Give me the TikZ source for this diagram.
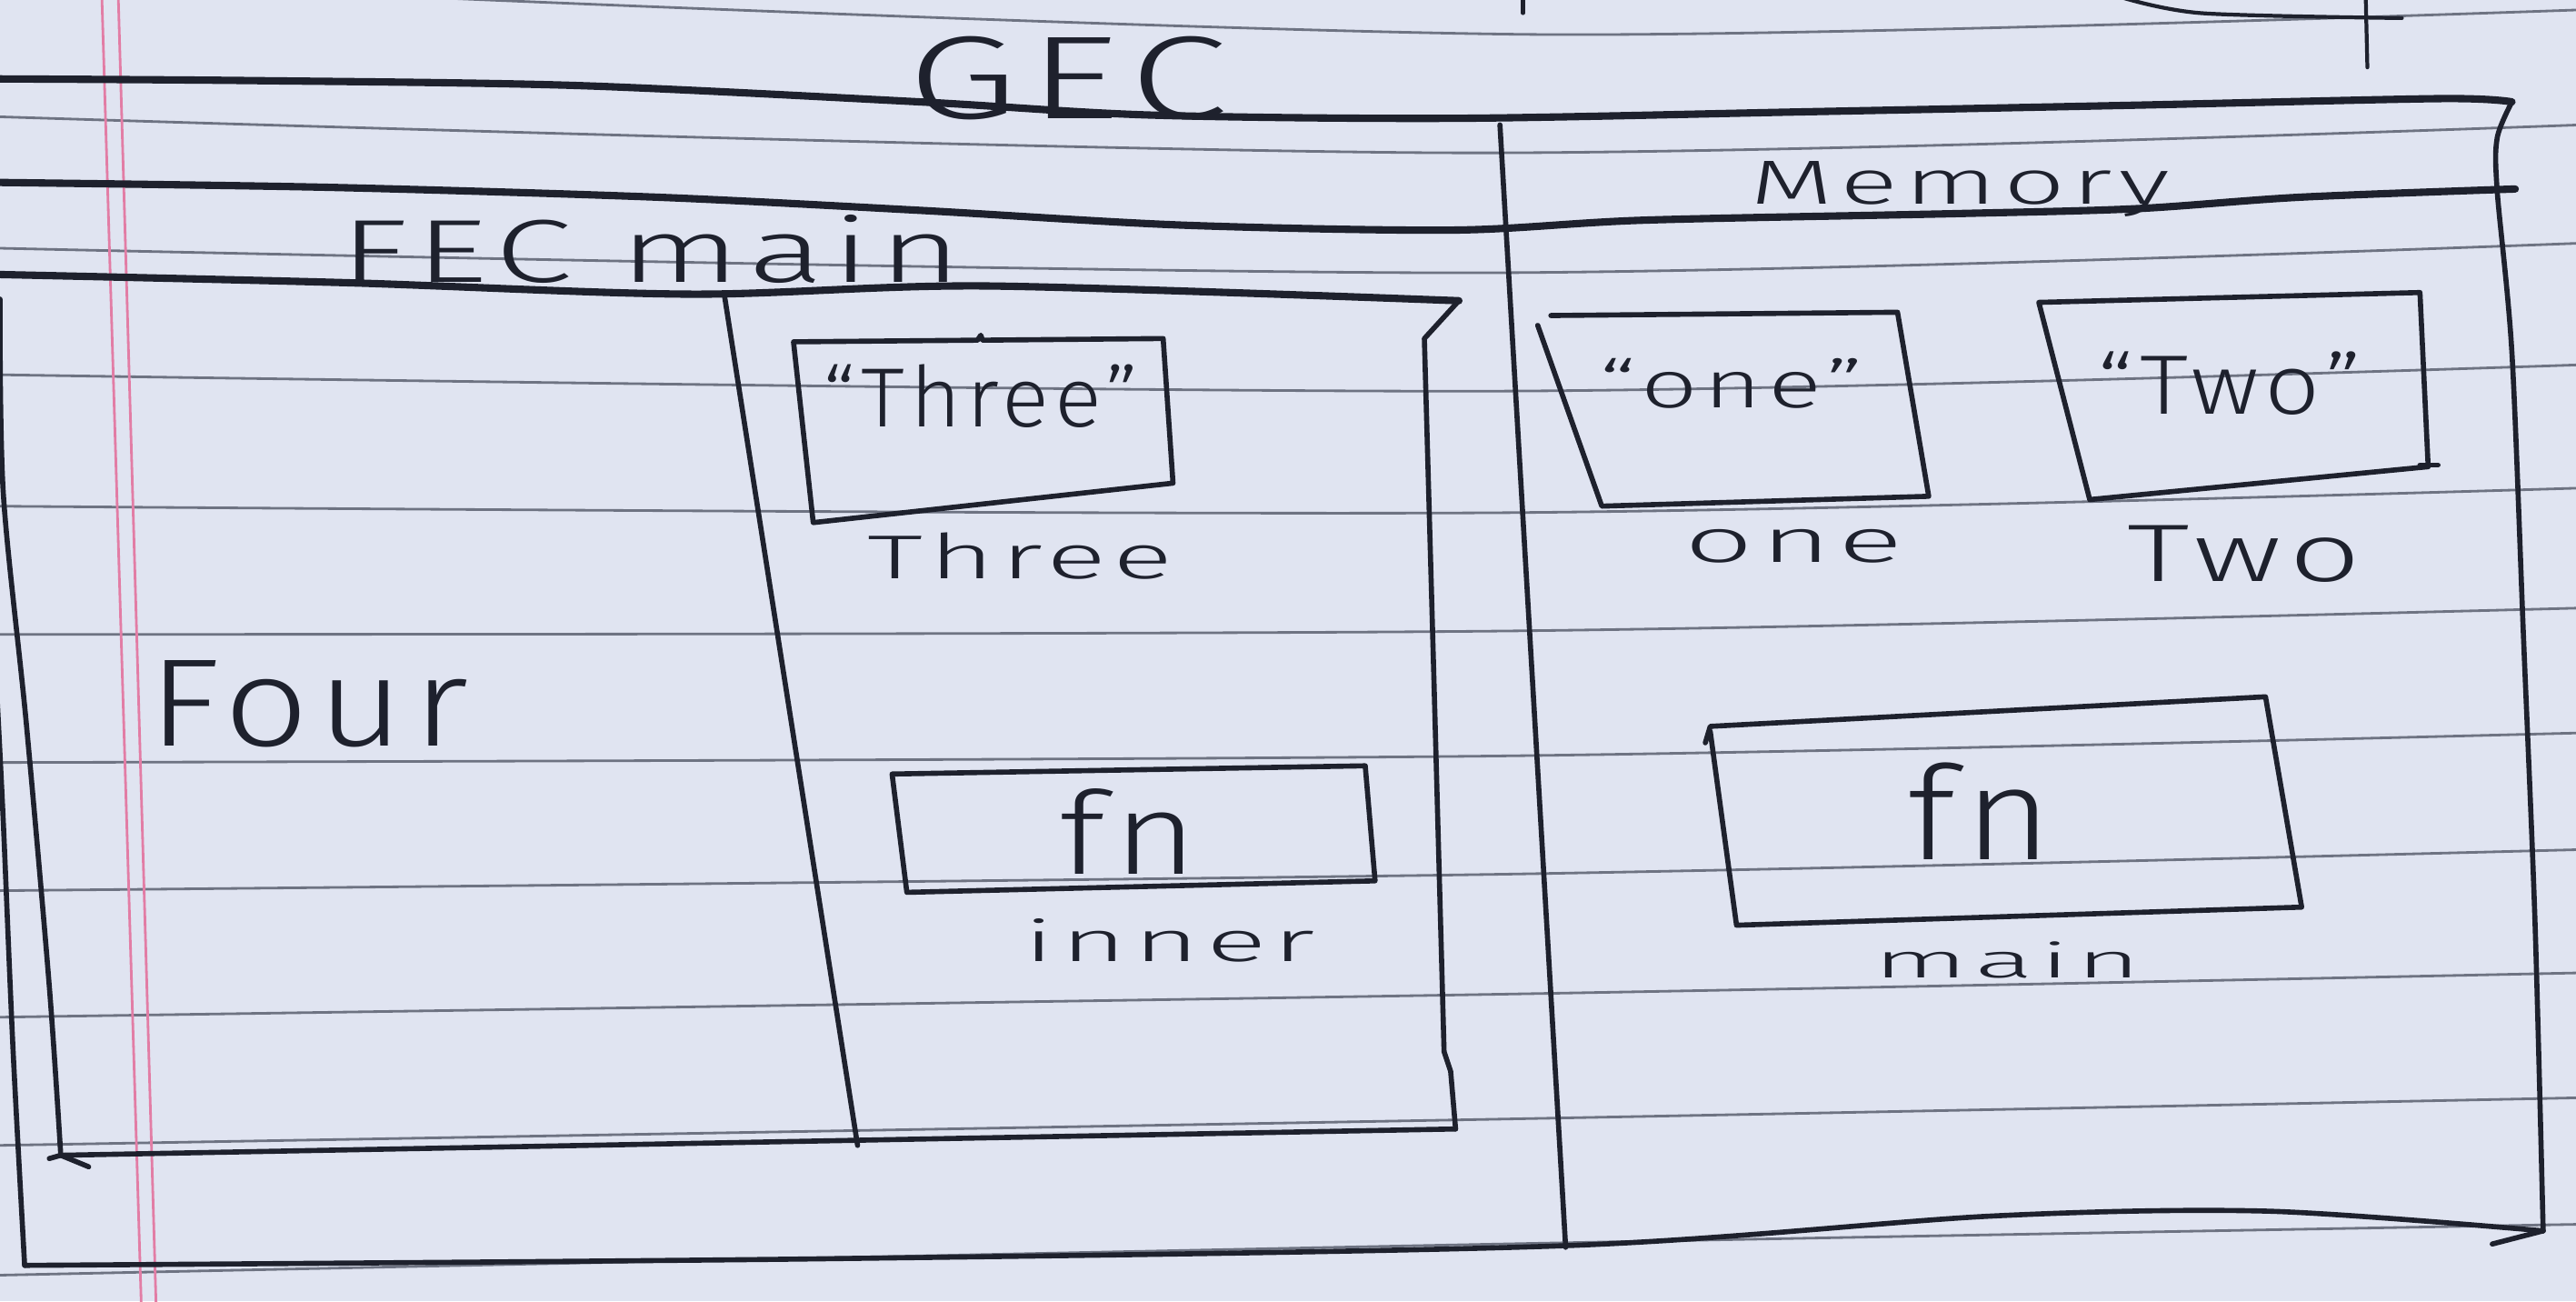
\documentclass[tikz,border=0pt]{standalone}
\usepackage{graphicx}
\usepackage{fontspec}
\setmainfont{Fira Sans}
\IfFontExistsTF{Fira Sans Light}{\newfontfamily\hand{Fira Sans Light}[LetterSpace=6]}{%
  \IfFontExistsTF{Lato Light}{\newfontfamily\hand{Lato Light}[LetterSpace=6]}{%
    \newfontfamily\hand{Fira Sans}[LetterSpace=6]}}
\definecolor{paper}{RGB}{224,228,241}
\definecolor{ink}{RGB}{30,33,45}
\definecolor{rulec}{RGB}{110,115,130}
\definecolor{marginc}{RGB}{226,125,165}
\newlength{\pxu}\setlength{\pxu}{0.018074cm}
\newcommand{\hw}[3]{\resizebox{#1\pxu}{#2\pxu}{\hand #3}}
\tikzset{
  inkline/.style={draw=ink, line width=1.6pt, line join=round, line cap=round},
  heavy/.style={draw=ink, line width=2.3pt, line join=round, line cap=round},
  ruled/.style={draw=rulec, line width=0.8pt},
  marginline/.style={draw=marginc, line width=0.8pt},
  lbl/.style={inner sep=0pt, outer sep=0pt, text=ink, anchor=base},
}
\begin{document}
\begin{tikzpicture}[x=0.018074cm, y=-0.018074cm]
\fill[paper] (0,0) rectangle (1568,792);
\useasboundingbox (0,0) rectangle (1568,792);
\clip (0,0) rectangle (1568,792);
% ruled paper lines
\draw[ruled] plot[smooth] coordinates {(250,-2) (940,21) (1570,6)};
\draw[ruled] plot[smooth] coordinates {(-2,71) (885,93) (1570,76)};
\draw[ruled] plot[smooth] coordinates {(-2,151) (900,166) (1570,148)};
\draw[ruled] plot[smooth] coordinates {(-2,228) (913,238) (1570,222)};
\draw[ruled] plot[smooth] coordinates {(-2,308) (913,312) (1570,297)};
\draw[ruled] plot[smooth] coordinates {(-2,386) (913,384) (1570,370)};
\draw[ruled] plot[smooth] coordinates {(-2,464) (913,460) (1570,446)};
\draw[ruled] plot[smooth] coordinates {(-2,542) (913,532) (1570,517)};
\draw[ruled] plot[smooth] coordinates {(-2,619) (913,605) (1570,592)};
\draw[ruled] plot[smooth] coordinates {(-2,697) (913,681) (1570,668)};
\draw[ruled] plot[smooth] coordinates {(-2,776) (913,757) (1570,745)};
% margin lines
\draw[marginline] (62,-2) -- (86,794);
\draw[marginline] (72,-2) -- (95,794);
% stray marks at top right
\draw[inkline, line width=1.2pt] plot[smooth] coordinates {(1290,-2) (1340,8) (1462,11)};
\draw[inkline, line width=1.2pt] (1440,-2) -- (1441,41);
\draw[inkline, line width=1.2pt] (927,-2) -- (927,8);

% corner coordinates
\coordinate (gecTR) at (1529,62);
\coordinate (gecBR) at (1548,749);
\coordinate (gecBM) at (953,759);
\coordinate (gecBL) at (15,770);
\coordinate (divT) at (913,76);

% GEC outer box
\draw[heavy] plot[smooth, tension=0.5] coordinates {(-2,48) (150,49) (350,52) (560,62) (700,70) (885,72) (1100,68) (1300,64) (1486,60) (1529,62)};
\draw[inkline] plot[smooth, tension=0.5] coordinates {(1529,62) (1520,84) (1520,116) (1529,215) (1536,387) (1543,560) (1548,749)};
\draw[inkline] (gecBR) -- (1517,757);
\draw[inkline] plot[smooth, tension=0.5] coordinates {(1548,749) (1380,737) (1212,740) (953,758) (500,766) (15,770)};
\draw[inkline] plot[smooth, tension=0.5] coordinates {(15,770) (8,640) (2,500) (-2,420)};
% divider GEC | Memory
\draw[inkline] (divT) -- (gecBM);
% header line (under GEC / Memory)
\draw[heavy] plot[smooth, tension=0.5] coordinates {(-2,111) (200,114) (400,120) (560,128) (720,137) (885,140) (1000,134) (1190,130) (1300,127) (1400,120) (1531,115)};

% FEC main box
\coordinate (fecTL) at (0,168);
\coordinate (fecTR) at (888,183);
\coordinate (fecBR) at (886,687);
\coordinate (fecBL) at (37,703);
\draw[heavy] plot[smooth, tension=0.5] coordinates {(-2,167) (210,172) (420,179) (600,174) (888,183)};
\draw[inkline] (fecTR) -- (867,206) -- (873,420) -- (879,640) -- (883,652) -- (fecBR);
\draw[inkline] (fecBR) -- (fecBL) -- (30,705);
\draw[inkline] (fecBL) -- (54,710);
\draw[inkline] plot[smooth, tension=0.5] coordinates {(37,703) (30,600) (16,440) (2,300) (0,182)};
\draw[inkline] (441,180) -- (522,697);

% Three box
\draw[inkline] (483,208) -- (595,207) -- (597,204) -- (598,207) -- (708,206) -- (714,294) -- (495,318) -- cycle;
% fn inner box
\draw[inkline] (543,471) -- (831,466) -- (837,536) -- (552,543) -- cycle;
% one box
\draw[inkline] (944,192) -- (1155,190) -- (1174,302) -- (975,308) -- (936,198);
% Two box
\draw[inkline] (1241,184) -- (1473,178) -- (1478,284) -- (1272,304) -- cycle;
\draw[inkline] (1473,283) -- (1484,283);
% fn main box
\draw[inkline] (1038,452) -- (1041,442) -- (1379,424) -- (1401,552) -- (1057,563) -- (1041,445);

% labels
\node[lbl] (gec) at (650,72) {\hw{195}{50}{GEC}};
\node[lbl] (fecmain) at (396,172) {\hw{378}{41}{FEC main}};
\node[lbl] (memory) at (1193,124) {\hw{255}{26}{Memory}};
\node[lbl] (four) at (188,454) {\hw{195}{52}{Four}};
\node[lbl] (threeval) at (597,260) {\hw{192}{38}{“Three”}};
\node[lbl] (threelbl) at (621,352) {\hw{186}{28}{Three}};
\node[lbl] (fninner) at (687,532) {\hw{84}{52}{fn}};
\node[lbl] (inner) at (712,585) {\hw{177}{26}{inner}};
\node[lbl] (oneval) at (1054,248) {\hw{161}{30}{“one”}};
\node[lbl] (onelbl) at (1092,342) {\hw{133}{20}{one}};
\node[lbl] (twoval) at (1357,252) {\hw{161}{38}{“Two”}};
\node[lbl] (twolbl) at (1366,354) {\hw{142}{34}{Two}};
\node[lbl] (fnmain) at (1205,523) {\hw{88}{59}{fn}};
\node[lbl] (mainlbl) at (1222,595) {\hw{163}{22}{main}};
\end{tikzpicture}
\end{document}
